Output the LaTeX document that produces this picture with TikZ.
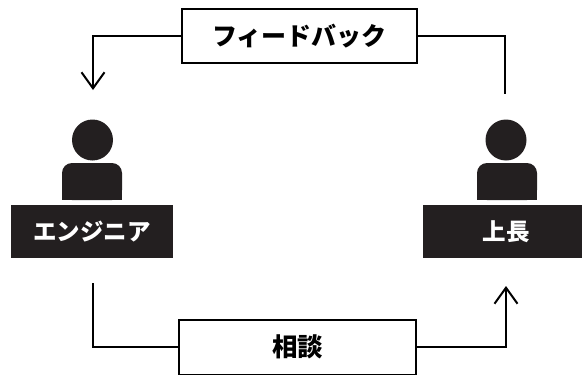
\documentclass[tikz,border=0pt]{standalone}
\usepackage{fontspec}
\newfontfamily\jp{Noto Sans CJK JP}
\usetikzlibrary{arrows.meta}
\definecolor{dark}{HTML}{231F20}
\begin{document}
\begin{tikzpicture}[x=1pt,y=-1pt,
  conn/.style={line width=2pt},
  arr/.style={conn,-{Straight Barb[length=16pt,width=23pt,line width=2pt]}},
  msgbox/.style={draw,line width=2pt,rectangle,inner sep=0pt,font=\jp\bfseries\fontsize{25pt}{29pt}\selectfont},
  labelbox/.style={fill=dark,rectangle,inner sep=0pt,minimum height=53pt,text=white,font=\jp\bfseries\fontsize{23.5pt}{27pt}\selectfont},
  headc/.style={circle,fill=dark,inner sep=0pt,minimum size=41pt}]
\useasboundingbox (0,0) rectangle (582,375);
\begin{scope}
\clip (0,0) rectangle (582,375);
% message boxes
\node[msgbox,minimum width=235pt,minimum height=54pt] (fb) at (299.5,36) {フィードバック};
\node[msgbox,minimum width=237pt,minimum height=55pt,font=\jp\fontsize{25.5pt}{29pt}\selectfont] (sd) at (297.5,347) {\textbf{相談}};
% persons
\node[headc] (h1) at (92.5,140) {};
\node[headc] (h2) at (506,140) {};
\fill[dark,rounded corners=10pt] (62,163) rectangle (122,200);
\fill[dark] (62,185) rectangle (122,200);
\fill[dark,rounded corners=10pt] (477,163) rectangle (537,200);
\fill[dark] (477,185) rectangle (537,200);
\node[labelbox,minimum width=162pt] (eng) at (92,231.5) {エンジニア};
\node[labelbox,minimum width=166pt] (boss) at (506,231.5) {上長};
% connector ends
\coordinate (engin) at (93,90);
\coordinate (bossout) at (505,94);
\coordinate (engout) at (93,283);
\coordinate (bossin) at (506,286);
\draw[arr] (fb.west) -| (engin);
\draw[conn] (fb.east) -| (bossout);
\draw[conn] (engout) |- (sd.west);
\draw[arr] (sd.east) -| (bossin);
\end{scope}
\end{tikzpicture}
\end{document}
